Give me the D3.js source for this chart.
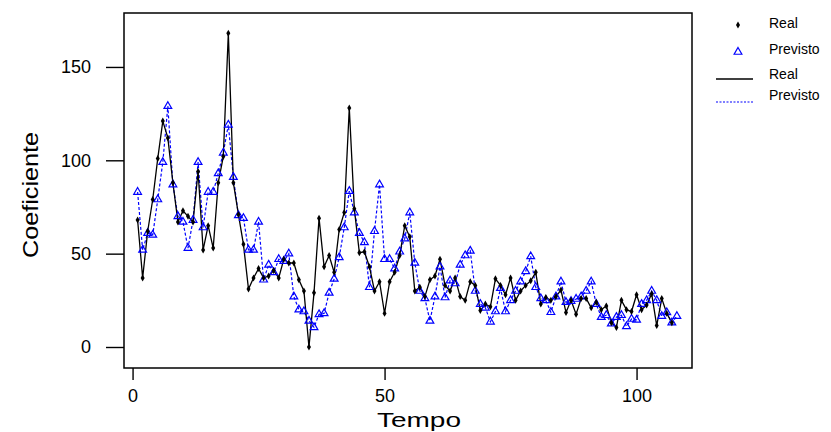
<!DOCTYPE html>
<html>
<head>
<meta charset="utf-8">
<script src="https://cdn.jsdelivr.net/npm/d3@7"></script>
<style>
    body { margin: 0; background: #fff; }
    svg { display: block; font-family: Arial, "Liberation Sans", sans-serif; }
</style>
</head>
<body>
<svg id="chart" width="831" height="432"></svg>
<script>
// Serie observada (t = 1..107)
const real = [
    68, 37, 62, 79, 101, 121, 112, 88, 67, 73, 70, 67, 94, 52, 65, 53, 88, 102, 168, 88,
    71, 55, 31, 37, 42, 37, 38, 41, 37, 47, 45, 45, 36, 30, 0, 29, 69, 43, 49, 40,
    63, 72, 128, 74, 50.5, 51, 43, 30, 35, 18, 35, 40, 49, 65, 59, 30, 32, 27, 36, 38,
    47, 33, 30, 37, 27, 25, 35, 33, 19.5, 23, 21.5, 36.5, 33, 28, 37, 25, 30, 33, 35.5, 40,
    23, 26.5, 25, 27, 30.5, 18.5, 25, 17.5, 26, 26, 21, 24, 20, 22, 13, 10.5, 25, 20, 19, 28,
    20, 22.5, 28.5, 11.5, 26, 18, 13
];

// Serie prevista (t = 1..108)
const previsto = [
    83, 52, 61, 60, 79, 99, 129, 87, 70, 67, 53, 68, 99, 64, 83, 83, 93, 104, 119, 91,
    70.5, 69, 52, 52, 67, 36, 44, 40, 47, 46, 50, 27, 20, 19, 14, 10.5, 17.5, 18, 29, 36.5,
    48, 64, 83.5, 72, 61, 56, 32, 62, 87, 47, 47, 42, 51, 58, 72, 45, 30, 26, 14, 27,
    43, 26.5, 35.5, 34, 44, 49, 51.5, 30, 23, 21, 13.5, 19, 31.5, 19, 25, 30, 35, 40.5, 48.5, 32,
    26, 25, 18.6, 27, 35, 24, 24.5, 25.7, 27, 30, 35, 23, 16, 17, 12.5, 16, 17, 11, 15, 14.5,
    23, 25, 30, 25, 16.5, 18.5, 13, 16.5
];

const xTicks = [0, 50, 100];
const yTicks = [0, 50, 100, 150];
const legendItems = ['Real', 'Previsto', 'Real', 'Previsto'];

const realData = real.map((v, i) => ({ t: i + 1, v: v }));
const prevData = previsto.map((v, i) => ({ t: i + 1, v: v }));

const svg = d3.select('#chart');

// Rahmen / plot frame
const frame = { left: 124, top: 13, right: 692, bottom: 368 };

const x = d3.scaleLinear()
    .domain([-1.7, 111])
    .range([frame.left, frame.right]);

const y = d3.scaleLinear()
    .domain([-11.25, 178.9])
    .range([frame.bottom, frame.top]);

// Achsen
const yAxis = svg.append('g')
    .attr('transform', `translate(${frame.left},0)`)
    .call(d3.axisLeft(y).tickValues(yTicks).tickSize(18).tickPadding(15).tickFormat(d3.format('d')));
yAxis.select('.domain').remove();
yAxis.selectAll('line').attr('stroke', '#000').attr('stroke-width', 1.4);
yAxis.selectAll('text').attr('fill', '#000').style('font-size', '18px');

const xAxis = svg.append('g')
    .attr('transform', `translate(0,${frame.bottom})`)
    .call(d3.axisBottom(x).tickValues(xTicks).tickSize(12).tickPadding(9).tickFormat(d3.format('d')));
xAxis.select('.domain').remove();
xAxis.selectAll('line').attr('stroke', '#000').attr('stroke-width', 1.4);
xAxis.selectAll('text').attr('fill', '#000').style('font-size', '18px');

// Achsentitel
svg.append('text')
    .attr('x', 419)
    .attr('y', 427)
    .attr('text-anchor', 'middle')
    .attr('textLength', 84)
    .attr('lengthAdjust', 'spacingAndGlyphs')
    .style('font-size', '20px')
    .text('Tempo');

svg.append('text')
    .attr('transform', 'translate(38,195) rotate(-90)')
    .attr('text-anchor', 'middle')
    .attr('textLength', 126)
    .attr('lengthAdjust', 'spacingAndGlyphs')
    .style('font-size', '22px')
    .text('Coeficiente');

// Linien
const line = d3.line()
    .x(d => x(d.t))
    .y(d => y(d.v));

svg.append('path')
    .datum(prevData)
    .attr('fill', 'none')
    .attr('stroke', '#0000ff')
    .attr('stroke-width', 1.2)
    .attr('stroke-dasharray', '3,2')
    .attr('d', line);

svg.append('path')
    .datum(realData)
    .attr('fill', 'none')
    .attr('stroke', '#000')
    .attr('stroke-width', 1.3)
    .attr('d', line);

// Punkte
const tri = d3.symbol().type(d3.symbolTriangle).size(26);
const dia = d3.symbol().type(d3.symbolDiamond).size(14);

svg.selectAll('.prev-pt')
    .data(prevData)
    .enter()
    .append('path')
    .attr('class', 'prev-pt')
    .attr('transform', d => `translate(${x(d.t)},${y(d.v)})`)
    .attr('d', tri)
    .attr('fill', 'none')
    .attr('stroke', '#0000ff')
    .attr('stroke-width', 1.2);

svg.selectAll('.real-pt')
    .data(realData)
    .enter()
    .append('path')
    .attr('class', 'real-pt')
    .attr('transform', d => `translate(${x(d.t)},${y(d.v)})`)
    .attr('d', dia)
    .attr('fill', '#000');

// Rahmen zeichnen
svg.append('rect')
    .attr('x', frame.left)
    .attr('y', frame.top)
    .attr('width', frame.right - frame.left)
    .attr('height', frame.bottom - frame.top)
    .attr('fill', 'none')
    .attr('stroke', '#000')
    .attr('stroke-width', 1.5);

// Legende
const legend = svg.append('g').style('font-size', '14px');
const rowY = [28, 54, 79, 100];

legendItems.forEach((label, i) => {
    legend.append('text')
        .attr('x', 769)
        .attr('y', rowY[i])
        .text(label);
});

legend.append('path')
    .attr('transform', 'translate(738,25)')
    .attr('d', dia)
    .attr('fill', '#000');

legend.append('path')
    .attr('transform', 'translate(738,52)')
    .attr('d', tri)
    .attr('fill', 'none')
    .attr('stroke', '#0000ff')
    .attr('stroke-width', 1.2);

legend.append('line')
    .attr('x1', 716).attr('x2', 753)
    .attr('y1', 79).attr('y2', 79)
    .attr('stroke', '#000')
    .attr('stroke-width', 1.3);

legend.append('line')
    .attr('x1', 716).attr('x2', 753)
    .attr('y1', 102).attr('y2', 102)
    .attr('stroke', '#0000ff')
    .attr('stroke-width', 1.2)
    .attr('stroke-dasharray', '2,1.5');
</script>
</body>
</html>
